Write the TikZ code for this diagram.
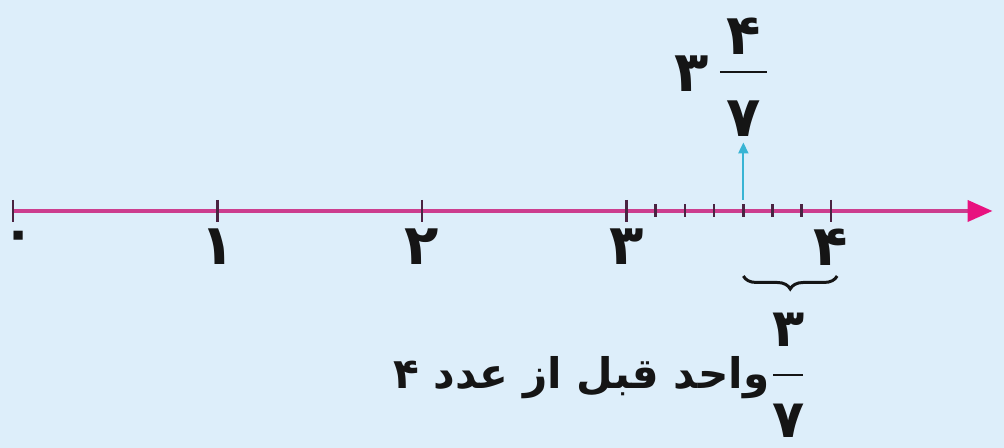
\documentclass[tikz,border=0pt]{standalone}
\usepackage{fontspec}
\usepackage{xcolor}
\newfontfamily\farsi[Script=Arabic]{DejaVu Sans}
\TeXXeTstate=1
\usepackage{tikz}
\usetikzlibrary{arrows.meta,decorations.pathreplacing,calc}

\definecolor{bgblue}{HTML}{DDEEFA}
\definecolor{axispink}{HTML}{CC3D8E}
\definecolor{tipmagenta}{HTML}{E8127F}
\definecolor{tickdark}{HTML}{4A2342}
\definecolor{markcyan}{HTML}{38B4D4}
\definecolor{inkblack}{HTML}{151515}

\begin{document}
\begin{tikzpicture}[
        numlabel/.style={font=\farsi\bfseries\fontsize{32}{36}\selectfont, text=inkblack, inner sep=0pt},
        fraclabel/.style={font=\farsi\bfseries\fontsize{30}{34}\selectfont, text=inkblack, inner sep=0pt},
        textlabel/.style={font=\farsi\bfseries\fontsize{24}{28}\selectfont, text=inkblack, inner sep=0pt},
        majortick/.style={draw=tickdark, line width=1.7pt},
        minortick/.style={draw=tickdark, line width=1.5pt},
        axisline/.style={draw=axispink, line width=2.2pt, -{Triangle[length=0.5cm, width=0.42cm, color=tipmagenta]}},
        markarrow/.style={draw=markcyan, line width=1.2pt, shorten >=3pt, -{Triangle[length=0.22cm, width=0.2cm]}},
        fracbar/.style={draw=inkblack, line width=1.4pt},
        bracestyle/.style={draw=inkblack, line width=1.7pt, decorate, decoration={brace, mirror, amplitude=0.26cm}}
    ]

    % Background and frame
    \fill[bgblue] (0,0) rectangle (20.08,8.96);
    \useasboundingbox (0,0) rectangle (20.08,8.96);

    \begin{scope}[shift={(0.26,4.74)}, x=4.09cm]

    % === Number line ===
    \coordinate (start) at (0,0);
    \coordinate (end) at (4.79,0);
    \draw[axisline] (start) -- (end);

    % Whole numbers
    \draw[majortick] (0,0.22) -- (0,-0.22);
    \node[fraclabel] (num0) at (0.025,-0.6) {۰};
    \foreach \n/\d in {1/۱,2/۲,3/۳,4/۴} {
        \draw[majortick] (\n,0.22) -- (\n,-0.22);
        \node[numlabel] (num\n) at (\n,-0.72) {\d};
    }

    % Sevenths between 3 and 4
    \foreach \k in {1,...,6} {
        \draw[minortick] (3+\k/7,0.13) -- (3+\k/7,-0.13);
    }

    % === Point 3 4/7 ===
    \coordinate (point) at (3+4/7,0.22);
    \node[numlabel] (whole) at (3.32,2.74) {۳};
    \node[numlabel] (topnum) at (3+4/7,3.5) {۴};
    \node[numlabel] (topden) at (3+4/7,1.84) {۷};
    \draw[fracbar] (3+4/7-0.115,2.78) -- (3+4/7+0.115,2.78);
    \draw[markarrow] (point) -- (topden.south);

    % === Distance to 4 ===
    \coordinate (bleft) at (3+4/7,-1.3);
    \coordinate (bright) at (4.03,-1.3);
    \draw[bracestyle] (bleft) -- (bright);

    \node[fraclabel] (botnum) at (3.795,-2.38) {۳};
    \node[fraclabel] (botden) at (3.795,-4.2) {۷};
    \draw[fracbar] (3.717,-3.28) -- (3.863,-3.28);
    \node[textlabel, anchor=east] (caption) at (3.70,-3.34) {\beginR واحد قبل از عدد ۴\endR};

    \end{scope}

\end{tikzpicture}
\end{document}
